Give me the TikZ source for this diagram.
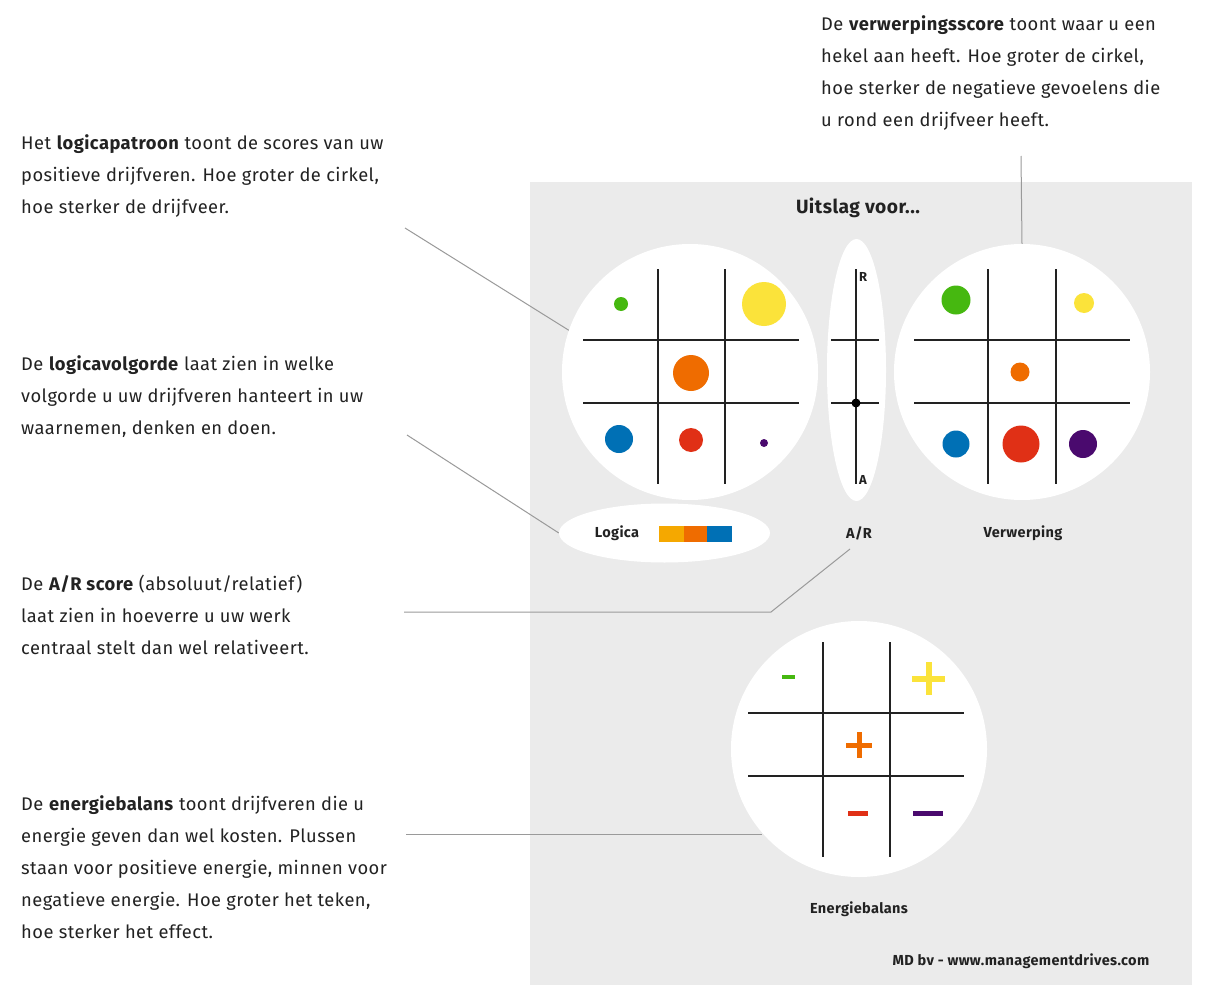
\documentclass[tikz,border=0pt]{standalone}
\usepackage{fontspec}
\setmainfont{Fira Sans}[LetterSpace=2.5]
\usetikzlibrary{shapes.geometric}
\definecolor{panel}{HTML}{EBEBEB}
\definecolor{ink}{HTML}{222222}
\definecolor{leader}{HTML}{9A9A9A}
\definecolor{dgreen}{HTML}{46B810}
\definecolor{dyellow}{HTML}{FBE33A}
\definecolor{dorange}{HTML}{EF6C00}
\definecolor{dblue}{HTML}{0070B5}
\definecolor{dred}{HTML}{E03016}
\definecolor{dpurple}{HTML}{4A0A6E}
\definecolor{dgold}{HTML}{F5A800}
\tikzset{
  body/.style={anchor=north west, inner sep=0pt, align=left, text=ink,
    font=\fontsize{18.3}{32}\selectfont},
  caption/.style={inner sep=0pt, text=ink, font=\fontsize{14.5}{16}\selectfont\bfseries},
  disc/.style={circle, fill=white, minimum size=256pt, inner sep=0pt},
  gridline/.style={draw=ink, line width=1.4pt},
  leaderline/.style={draw=leader, line width=1pt},
  dot/.style={circle, inner sep=0pt},
  sign/.style={line width=#1, line cap=butt},
}
\begin{document}
\begin{tikzpicture}[x=1pt, y=-1pt]
\useasboundingbox (0,0) rectangle (1208,985);
\fill[white] (0,0) rectangle (1208,985);

% grey results panel
\fill[panel] (530,182) rectangle (1192,985);
\node[inner sep=0pt, text=ink, font=\fontsize{19.2}{20}\selectfont\bfseries] (title) at (858,208) {Uitslag voor...};

% white backgrounds
\node[disc] (logica) at (690,372) {};
\node[disc] (verw) at (1022,372) {};
\node[disc] (energie) at (859,749) {};
\node[ellipse, fill=white, minimum width=59pt, minimum height=262pt, inner sep=0pt] (ar) at (856.5,370) {};
\node[ellipse, fill=white, minimum width=211pt, minimum height=59pt, inner sep=0pt] (volg) at (664.5,533) {};

% logicapatroon grid
\draw[gridline] (658,269) -- (658,484) (725,269) -- (725,484)
  (583,340) -- (799,340) (583,403) -- (799,403);
\node[dot, fill=dgreen, minimum size=14pt] (lg) at (621,304) {};
\node[dot, fill=dyellow, minimum size=44pt] (ly) at (764,304) {};
\node[dot, fill=dorange, minimum size=36pt] (lo) at (691,373) {};
\node[dot, fill=dblue, minimum size=28pt] (lb) at (619,439) {};
\node[dot, fill=dred, minimum size=24pt] (lr) at (691,440) {};
\node[dot, fill=dpurple, minimum size=8pt] (lp) at (764,443) {};

% A/R scale
\draw[gridline] (856,269) -- (856,484) (831,340) -- (879,340) (831,403) -- (879,403);
\node[dot, fill=black, minimum size=9pt] (arpt) at (856,403) {};
\node[inner sep=0pt, text=ink, font=\fontsize{13}{14}\selectfont\bfseries, anchor=west] (rlab) at (859,277) {R};
\node[inner sep=0pt, text=ink, font=\fontsize{13}{14}\selectfont\bfseries, anchor=west] (alab) at (859,480) {A};

% verwerping grid
\draw[gridline] (988,269) -- (988,484) (1056,269) -- (1056,484)
  (914,340) -- (1130,340) (914,403) -- (1130,403);
\node[dot, fill=dgreen, minimum size=29pt] (vg) at (956,300) {};
\node[dot, fill=dyellow, minimum size=20pt] (vy) at (1084,303) {};
\node[dot, fill=dorange, minimum size=19pt] (vo) at (1020,372) {};
\node[dot, fill=dblue, minimum size=27pt] (vb) at (956,444) {};
\node[dot, fill=dred, minimum size=37pt] (vr) at (1021,444) {};
\node[dot, fill=dpurple, minimum size=28pt] (vp) at (1083,444) {};

% logicavolgorde bar
\node[caption, anchor=center] (logicalab) at (617,533) {Logica};
\fill[dgold] (659,526) rectangle (684,542);
\fill[dorange] (684,526) rectangle (707,542);
\fill[dblue] (707,526) rectangle (732,542);
\node[caption] (arlab) at (859,533) {A/R};
\node[caption] (verwlab) at (1023,533) {Verwerping};

% energiebalans grid
\draw[gridline] (823,642) -- (823,857) (890,642) -- (890,857)
  (748,713) -- (964,713) (748,776) -- (964,776);
\draw[dgreen, sign=4pt] (782,677) -- (795,677);
\draw[dyellow, sign=6pt] (912,679) -- (945,679) (928.5,662) -- (928.5,695);
\draw[dorange, sign=5pt] (846,745) -- (872,745) (859,732) -- (859,758);
\draw[dred, sign=5pt] (848,813) -- (868,813);
\draw[dpurple, sign=5pt] (913,813) -- (943,813);
\node[caption] (energielab) at (859,909) {Energiebalans};
\node[caption] (credit) at (1021,961) {MD bv - www.managementdrives.com};

% explanatory texts
\node[body] (t1) at (21,134) {Het \textbf{logicapatroon} toont de scores van uw\\positieve drijfveren. Hoe groter de cirkel,\\hoe sterker de drijfveer.};
\node[body] (t2) at (21,355) {De \textbf{logicavolgorde} laat zien in welke\\volgorde u uw drijfveren hanteert in uw\\waarnemen, denken en doen.};
\node[body] (t3) at (21,575) {De \textbf{A/R score} (absoluut/relatief)\\laat zien in hoeverre u uw werk\\centraal stelt dan wel relativeert.};
\node[body] (t4) at (21,795) {De \textbf{energiebalans} toont drijfveren die u\\energie geven dan wel kosten. Plussen\\staan voor positieve energie, minnen voor\\negatieve energie. Hoe groter het teken,\\hoe sterker het effect.};
\node[body] (t5) at (821,15) {De \textbf{verwerpingsscore} toont waar u een\\hekel aan heeft. Hoe groter de cirkel,\\hoe sterker de negatieve gevoelens die\\u rond een drijfveer heeft.};

% leader lines
\coordinate (c1) at (405,228);
\coordinate (c2) at (407,435);
\coordinate (c3) at (404,612);
\coordinate (c3b) at (771,612);
\coordinate (c3c) at (850,549);
\coordinate (c4) at (406,834);
\coordinate (c5) at (1021,156);
\draw[leaderline] (c1) -- (logica.161.8);
\draw[leaderline] (c2) -- (volg.west);
\draw[leaderline] (c3) -- (c3b) -- (c3c);
\draw[leaderline] (c4) -- (c4 -| energie.221.6);
\draw[leaderline] (c5) -- (verw.north);
\end{tikzpicture}
\end{document}
